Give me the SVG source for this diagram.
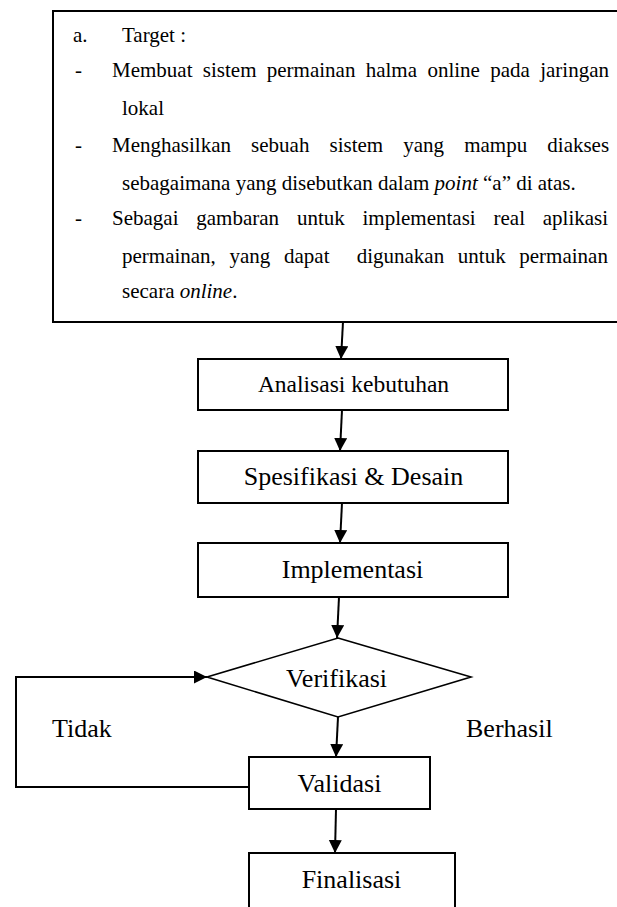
<svg xmlns="http://www.w3.org/2000/svg" width="617" height="907" viewBox="0 0 617 907">
<style>
  .t { font-family: "Liberation Serif", "Times New Roman", serif; fill: #000; }
  .p { font-size: 21px; }
  .l { font-size: 26px; text-anchor: middle; }
  .box { fill: #fff; stroke: #000; stroke-width: 2; }
  .conn { fill: none; stroke: #000; stroke-width: 2; }
</style>
<defs>
  <marker id="ah" markerUnits="userSpaceOnUse" markerWidth="14" markerHeight="14" refX="13" refY="6.5" orient="auto">
    <path d="M0,0 L13,6.5 L0,13 z" fill="#000"/>
  </marker>
</defs>
<rect width="617" height="907" fill="#fff"/>

<g id="target">
  <path class="box" d="M617,11 H53 V322 H617"/>
  <text class="t p" x="73" y="42">a.</text>
  <text class="t p" x="122" y="42">Target :</text>
  <text class="t p" x="75" y="77">-</text>
  <text class="t p" y="77"><tspan x="112">Membuat</tspan><tspan x="202.8">sistem</tspan><tspan x="266.8">permainan</tspan><tspan x="365.7">halma</tspan><tspan x="427.4">online</tspan><tspan x="490.2">pada</tspan><tspan x="540.2">jaringan</tspan></text>
  <text class="t p" x="122" y="115">lokal</text>
  <text class="t p" x="75" y="152">-</text>
  <text class="t p" y="152"><tspan x="112">Menghasilkan</tspan><tspan x="251.1">sebuah</tspan><tspan x="329.5">sistem</tspan><tspan x="403.3">yang</tspan><tspan x="464.2">mampu</tspan><tspan x="547.3">diakses</tspan></text>
  <text class="t p" x="122" y="190">sebagaimana yang disebutkan dalam <tspan font-style="italic">point</tspan> “a” di atas.</text>
  <text class="t p" x="75" y="225">-</text>
  <text class="t p" y="225"><tspan x="112">Sebagai</tspan><tspan x="196.3">gambaran</tspan><tspan x="296.9">untuk</tspan><tspan x="362.5">implementasi</tspan><tspan x="493.5">real</tspan><tspan x="542.8">aplikasi</tspan></text>
  <text class="t p" y="263"><tspan x="122">permainan,</tspan><tspan x="229.5">yang</tspan><tspan x="284">dapat</tspan><tspan x="356.7">digunakan</tspan><tspan x="457.8">untuk</tspan><tspan x="519.3">permainan</tspan></text>
  <text class="t p" x="122" y="298">secara <tspan font-style="italic">online</tspan>.</text>
</g>

<g id="analisasi">
  <rect class="box" x="198" y="359" width="310" height="51"/>
  <text class="t l" x="353.5" y="392" style="font-size:23.5px">Analisasi kebutuhan</text>
</g>
<g id="spesifikasi">
  <rect class="box" x="198" y="451" width="310" height="52"/>
  <text class="t l" x="353.5" y="485">Spesifikasi &amp; Desain</text>
</g>
<g id="implementasi">
  <rect class="box" x="198" y="543" width="310" height="54"/>
  <text class="t l" x="352.5" y="578">Implementasi</text>
</g>
<g id="verifikasi">
  <polygon points="338,638 471,677 338,717 207,677" fill="#fff" stroke="#000" stroke-width="1.6"/>
  <text class="t l" x="336.5" y="687">Verifikasi</text>
</g>
<g id="validasi">
  <rect class="box" x="249" y="757" width="181" height="52"/>
  <text class="t l" x="339.5" y="792">Validasi</text>
</g>
<g id="finalisasi">
  <path class="box" d="M249,908 V853 H455 V908"/>
  <text class="t l" x="351.5" y="888">Finalisasi</text>
</g>

<g id="connectors">
  <line class="conn" x1="343" y1="322" x2="341" y2="359" marker-end="url(#ah)"/>
  <line class="conn" x1="342" y1="410" x2="340" y2="451" marker-end="url(#ah)"/>
  <line class="conn" x1="342" y1="503" x2="340" y2="543" marker-end="url(#ah)"/>
  <line class="conn" x1="339" y1="597" x2="337" y2="638" marker-end="url(#ah)"/>
  <line class="conn" x1="338" y1="717" x2="336" y2="757" marker-end="url(#ah)"/>
  <line class="conn" x1="336" y1="809" x2="335" y2="853" marker-end="url(#ah)"/>
  <polyline class="conn" points="249,787 16,787 16,677 207,677" marker-end="url(#ah)"/>
  <text class="t" x="52" y="737" style="font-size:26px">Tidak</text>
  <text class="t" x="466" y="737" style="font-size:26px">Berhasil</text>
</g>
</svg>
